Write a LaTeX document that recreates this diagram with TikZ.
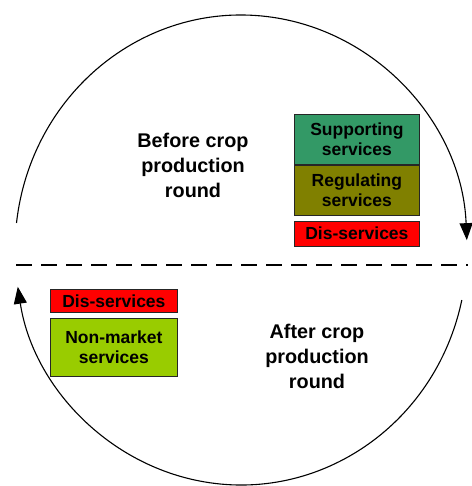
\documentclass[tikz,border=0pt]{standalone}
\usepackage{fontspec}
\setmainfont{Liberation Sans}
\usetikzlibrary{arrows.meta, positioning}
\definecolor{colSupp}{RGB}{51,153,102}
\definecolor{colRegu}{RGB}{128,128,0}
\definecolor{colDis} {RGB}{255,0,0}
\definecolor{colNonm}{RGB}{153,204,0}
\tikzset{
  svc/.style   = {draw=black!85, line width=0.8pt, font=\bfseries\fontsize{17.5}{20}\selectfont,
                  align=center, inner sep=0pt, minimum width=125pt, text=black},
  zsupp/.style = {svc, fill=colSupp, minimum height=50pt},
  zregu/.style = {svc, fill=colRegu, minimum height=50pt},
  zdis/.style  = {svc, fill=colDis,  minimum height=25pt},
  znonm/.style = {svc, fill=colNonm, minimum height=58pt, minimum width=127pt},
  phase/.style = {font=\bfseries\fontsize{19.8}{25}\selectfont, align=center},
  cyc/.style   = {line width=1.1pt, -{Triangle[length=17pt, width=13pt]}},
}

\begin{document}
\begin{tikzpicture}[x=1pt, y=1pt, node distance=0pt]
\useasboundingbox (0,0) rectangle (471,486);

%% ── cycle arcs ──────────────────────────────────────────────────────────────
\coordinate (ctr) at (241,236);
\draw[cyc] ([shift={(173.4:226 and 235)}]ctr)
  arc[start angle=173.4, end angle=2.4, x radius=226, y radius=235];
\draw[cyc] ([shift={(-12.3:226 and 235)}]ctr)
  arc[start angle=-12.3, end angle=-171, x radius=226, y radius=235];

%% ── divider ─────────────────────────────────────────────────────────────────
\coordinate (dl) at (16,221);
\coordinate (dr) at (468,221);
\draw[line width=2.9pt, dash pattern=on 16pt off 9pt] (dl) -- (dr);

%% ── before the round ────────────────────────────────────────────────────────
\node[phase] (before) at (193,321) {Before crop\\production\\round};
\node[zsupp, anchor=north west] (supp) at (294,372) {Supporting\\services};
\node[zregu, below=0pt of supp]  (regu) {Regulating\\services};
\node[zdis,  below=5pt of regu]  (dis1) {Dis-services};

%% ── after the round ─────────────────────────────────────────────────────────
\node[phase] (after) at (317,130) {After crop\\production\\round};
\node[zdis, minimum width=127pt, minimum height=23pt, anchor=north west] (dis2) at (50,197) {Dis-services};
\node[znonm, below=5pt of dis2] (nonm) {Non-market\\services};

\end{tikzpicture}
\end{document}
